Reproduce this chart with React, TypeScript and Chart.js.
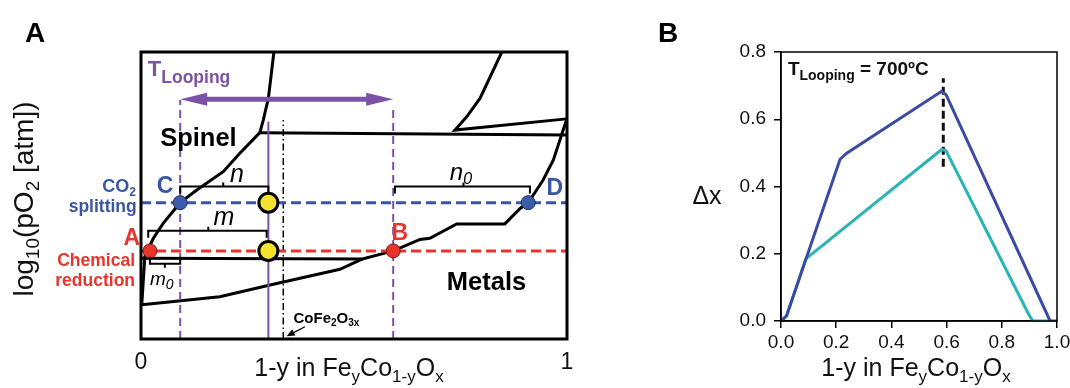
import React, { useEffect, useRef } from 'react';
import { Chart, registerables } from 'chart.js';
Chart.register(...registerables);

const FONT = '"Liberation Sans", Arial, Helvetica, sans-serif';
const PURPLE = '#7b52a6';
const BLUE = '#3a55a6';
const RED = '#e8352b';

// ---------- Panel A: schematic phase diagram (x = 1-y, y = relative log10 pO2) ----------
const spinelTopEdge = [[0.312, 1.0], [0.299, 0.839], [0.287, 0.763], [0.279, 0.719]];
const spinelPlateau = [[0.279, 0.719], [1.0, 0.711]];
const spinelLowerEdge = [[0.279, 0.719], [0.232, 0.647], [0.193, 0.583], [0.131, 0.519], [0.092, 0.475], [0.052, 0.403], [0.029, 0.351], [0.016, 0.31], [0.009, 0.287], [0.002, 0.124]];
const reductionShelf = [[0.002, 0.281], [0.52, 0.279], [0.592, 0.307]];
const metalsEdge = [[0.002, 0.119], [0.185, 0.147], [0.303, 0.188], [0.467, 0.243], [0.52, 0.279]];
const metalsRightEdge = [[0.592, 0.307], [0.655, 0.347], [0.678, 0.351], [0.741, 0.401], [0.854, 0.401], [0.89, 0.455], [0.909, 0.475], [0.944, 0.554], [0.968, 0.624], [0.991, 0.728], [0.999, 0.763]];
const upperWedge = [[0.847, 1.0], [0.796, 0.839], [0.765, 0.775], [0.737, 0.728], [0.999, 0.767]];

const co2Level = 0.475;
const reductionLevel = 0.307;
const redPoints = [[0.021, 0.307], [0.592, 0.307]]; // A, B
const bluePoints = [[0.092, 0.475], [0.909, 0.475]]; // C, D
const yellowPoints = [[0.299, 0.475], [0.299, 0.307]];
const loopRange = [0.092, 0.592];
const loopTops = [0.833, 0.815];
const arrowLevel = 0.835;
const compositionX = 0.299;
const compositionTop = 0.757;
const cofe2o3X = 0.334;
const cofe2o3Top = 0.763;
const aXTicks = [0, 1];

// brackets: [x0, x1, y, xMid, direction(1 = ends down)]
const brackets = [
  [0.092, 0.299, 0.531, 0.193, 1], // n
  [0.017, 0.295, 0.377, 0.158, 1], // m
  [0.596, 0.913, 0.531, 0.757, 1], // n0
  [0.021, 0.092, 0.262, 0.056, -1], // m0
];

// ---------- Panel B: Δx vs 1-y ----------
const blueX = [0, 0.02, 0.214, 0.238, 0.582, 0.598, 0.975, 1.0];
const blueDx = [0, 0.015, 0.481, 0.499, 0.683, 0.673, 0, 0];
const cyanX = [0, 0.02, 0.09, 0.582, 0.598, 0.9, 0.913, 0.98];
const cyanDx = [0, 0.015, 0.185, 0.51, 0.506, 0.016, 0, 0];
const markerX = 0.588;
const markerRange = [0.459, 0.722];
const bXTicks = [0, 0.2, 0.4, 0.6, 0.8, 1.0];
const bYTicks = [0, 0.2, 0.4, 0.6, 0.8];

const toXY = (arr: number[][]) => arr.map(([x, y]) => ({ x, y }));
const zipXY = (xs: number[], ys: number[]) => xs.map((x, i) => ({ x, y: ys[i] }));

type Part = { t: string; size: number; bold?: boolean; italic?: boolean; dy?: number };

function drawParts(ctx: CanvasRenderingContext2D, parts: Part[], x: number, y: number, align: 'left' | 'center' | 'right', color: string) {
  ctx.save();
  ctx.fillStyle = color;
  ctx.textBaseline = 'alphabetic';
  ctx.textAlign = 'left';
  const fonts = parts.map(p => `${p.italic ? 'italic ' : ''}${p.bold ? 'bold ' : ''}${p.size}px ${FONT}`);
  const widths = parts.map((p, i) => { ctx.font = fonts[i]; return ctx.measureText(p.t).width; });
  const total = widths.reduce((a, b) => a + b, 0);
  let cx = align === 'left' ? x : align === 'center' ? x - total / 2 : x - total;
  parts.forEach((p, i) => { ctx.font = fonts[i]; ctx.fillText(p.t, cx, y + (p.dy || 0)); cx += widths[i]; });
  ctx.restore();
}

const formulaParts = (s: number): Part[] => {
  const sub = Math.round(s * 0.68);
  const dy = Math.round(s * 0.25);
  return [
    { t: '1-y in Fe', size: s },
    { t: 'y', size: sub, dy },
    { t: 'Co', size: s },
    { t: '1-y', size: sub, dy },
    { t: 'O', size: s },
    { t: 'x', size: sub, dy },
  ];
};

const panelAPlugin = {
  id: 'panelA',
  afterDraw(chart: any) {
    const { ctx, chartArea: ca, scales } = chart;
    const X = (v: number) => scales.x.getPixelForValue(v);
    const Y = (v: number) => scales.y.getPixelForValue(v);
    ctx.save();
    // T_looping arrow
    const ay = Y(arrowLevel), ax0 = X(loopRange[0]), ax1 = X(loopRange[1]);
    const hl = 27, hw = 6.5;
    ctx.strokeStyle = PURPLE; ctx.fillStyle = PURPLE; ctx.lineWidth = 5;
    ctx.beginPath(); ctx.moveTo(ax0 + hl - 4, ay); ctx.lineTo(ax1 - hl + 4, ay); ctx.stroke();
    ctx.beginPath(); ctx.moveTo(ax0, ay); ctx.lineTo(ax0 + hl, ay - hw); ctx.lineTo(ax0 + hl, ay + hw); ctx.closePath(); ctx.fill();
    ctx.beginPath(); ctx.moveTo(ax1, ay); ctx.lineTo(ax1 - hl, ay - hw); ctx.lineTo(ax1 - hl, ay + hw); ctx.closePath(); ctx.fill();
    // brackets
    ctx.strokeStyle = '#000'; ctx.lineWidth = 2;
    brackets.forEach(([x0, x1, yv, xm, dir]) => {
      const py = Y(yv), px0 = X(x0), px1 = X(x1), pm = X(xm);
      ctx.beginPath();
      ctx.moveTo(px0, py + 7 * dir); ctx.lineTo(px0, py); ctx.lineTo(px1, py); ctx.lineTo(px1, py + 7 * dir);
      ctx.moveTo(pm, py); ctx.lineTo(pm, py - 4 * dir);
      ctx.stroke();
    });
    // CoFe2O3x arrow
    const sx = X(0.385), sy = Y(0.043), tx = X(0.342), ty = Y(0.01);
    ctx.lineWidth = 1.2;
    ctx.beginPath(); ctx.moveTo(sx, sy); ctx.lineTo(tx + 5, ty - 2.5); ctx.stroke();
    const ang = Math.atan2(ty - sy, tx - sx);
    ctx.fillStyle = '#000';
    ctx.beginPath();
    ctx.moveTo(tx, ty);
    ctx.lineTo(tx - 8 * Math.cos(ang) + 3.5 * Math.sin(ang), ty - 8 * Math.sin(ang) - 3.5 * Math.cos(ang));
    ctx.lineTo(tx - 8 * Math.cos(ang) - 3.5 * Math.sin(ang), ty - 8 * Math.sin(ang) + 3.5 * Math.cos(ang));
    ctx.closePath(); ctx.fill();
    // frame
    ctx.lineWidth = 3; ctx.strokeStyle = '#000';
    ctx.strokeRect(ca.left, ca.top, ca.right - ca.left, ca.bottom - ca.top);
    ctx.restore();

    // texts
    drawParts(ctx, [{ t: 'A', size: 28, bold: true }], 35, 42, 'center', '#000');
    drawParts(ctx, [{ t: 'T', size: 22, bold: true }, { t: 'Looping', size: 17.5, bold: true, dy: 7 }], X(0.016), Y(0.916), 'left', PURPLE);
    drawParts(ctx, [{ t: 'Spinel', size: 25.5, bold: true }], X(0.045), Y(0.672), 'left', '#000');
    drawParts(ctx, [{ t: 'Metals', size: 25.5, bold: true }], X(0.718), Y(0.171), 'left', '#000');
    drawParts(ctx, [{ t: 'n', size: 25, italic: true }], X(0.209), Y(0.548), 'left', '#000');
    drawParts(ctx, [{ t: 'm', size: 25, italic: true }], X(0.17), Y(0.397), 'left', '#000');
    drawParts(ctx, [{ t: 'n', size: 24, italic: true }, { t: '0', size: 16, italic: true, dy: 4 }], X(0.725), Y(0.554), 'left', '#000');
    drawParts(ctx, [{ t: 'm', size: 19, italic: true }, { t: '0', size: 14, italic: true, dy: 4 }], X(0.021), Y(0.188), 'left', '#000');
    drawParts(ctx, [{ t: 'CoFe', size: 15, bold: true }, { t: '2', size: 10, bold: true, dy: 3 }, { t: 'O', size: 15, bold: true }, { t: '3x', size: 10, bold: true, dy: 3 }], X(0.358), Y(0.055), 'left', '#000');
    drawParts(ctx, [{ t: 'C', size: 23, bold: true }], X(0.037), Y(0.509), 'left', BLUE);
    drawParts(ctx, [{ t: 'D', size: 23, bold: true }], X(0.952), Y(0.502), 'left', BLUE);
    drawParts(ctx, [{ t: 'B', size: 23, bold: true }], X(0.588), Y(0.345), 'left', RED);
    drawParts(ctx, [{ t: 'A', size: 23, bold: true }], X(-0.002), Y(0.328), 'right', RED);
    drawParts(ctx, [{ t: 'CO', size: 18, bold: true }, { t: '2', size: 12, bold: true, dy: 4 }], X(-0.012), Y(0.512), 'right', BLUE);
    drawParts(ctx, [{ t: 'splitting', size: 17.5, bold: true }], X(-0.01), Y(0.444), 'right', BLUE);
    drawParts(ctx, [{ t: 'Chemical', size: 17.5, bold: true }], X(-0.014), Y(0.254), 'right', RED);
    drawParts(ctx, [{ t: 'reduction', size: 17.5, bold: true }], X(-0.014), Y(0.185), 'right', RED);
    aXTicks.forEach(v => drawParts(ctx, [{ t: String(v), size: 23 }], X(v), 369, 'center', '#111'));
    drawParts(ctx, formulaParts(25), 349, 376, 'center', '#111');
    ctx.save();
    ctx.translate(33, 199);
    ctx.rotate(-Math.PI / 2);
    drawParts(ctx, [
      { t: 'log', size: 28 }, { t: '10', size: 19, dy: 6 }, { t: '(pO', size: 28 }, { t: '2', size: 19, dy: 6 }, { t: ' [atm])', size: 28 },
    ], 0, 0, 'center', '#111');
    ctx.restore();
  },
};

const panelBPlugin = {
  id: 'panelB',
  afterDraw(chart: any) {
    const { ctx, chartArea: ca, scales } = chart;
    ctx.save();
    ctx.lineWidth = 1.5; ctx.strokeStyle = '#000';
    ctx.strokeRect(ca.left, ca.top, ca.right - ca.left, ca.bottom - ca.top);
    ctx.restore();
    drawParts(ctx, [{ t: 'B', size: 28, bold: true }], 78, 42, 'center', '#000');
    drawParts(ctx, [{ t: 'Δx', size: 25 }], 117, 204, 'center', '#111');
    drawParts(ctx, formulaParts(25), (ca.left + ca.right) / 2 - 3, 376, 'center', '#111');
    drawParts(ctx, [
      { t: 'T', size: 19, bold: true }, { t: 'Looping', size: 14, bold: true, dy: 5 }, { t: ' = 700ºC', size: 19, bold: true },
    ], scales.x.getPixelForValue(0.025), 75, 'left', '#111');
  },
};

function line(data: number[][], color: string, width: number, dash: number[] = []) {
  return { data: toXY(data), showLine: true, borderColor: color, borderWidth: width, borderDash: dash, pointRadius: 0, fill: false };
}
function points(data: number[][], fill: string, border: string, radius: number, bw: number) {
  return { data: toXY(data), showLine: false, pointRadius: radius, pointBackgroundColor: fill, pointBorderColor: border, pointBorderWidth: bw, borderColor: border, backgroundColor: fill };
}

export default function App() {
  const aRef = useRef<HTMLCanvasElement>(null);
  const bRef = useRef<HTMLCanvasElement>(null);

  useEffect(() => {
    const chartA = new Chart(aRef.current as HTMLCanvasElement, {
      type: 'scatter',
      data: {
        datasets: [
          points(yellowPoints, '#f3e32b', '#000', 9.5, 3),
          points(redPoints, RED, '#7a1a12', 7, 1),
          points(bluePoints, '#3b5bab', '#1c2a60', 7, 1),
          line([[0, co2Level], [1, co2Level]], BLUE, 3, [10, 5]),
          line([[0, reductionLevel], [1, reductionLevel]], RED, 3, [10, 5]),
          line([[compositionX, 0], [compositionX, compositionTop]], PURPLE, 2),
          line([[loopRange[0], 0], [loopRange[0], loopTops[0]]], PURPLE, 2, [8, 5]),
          line([[loopRange[1], 0], [loopRange[1], loopTops[1]]], PURPLE, 2, [8, 5]),
          line([[cofe2o3X, 0], [cofe2o3X, cofe2o3Top]], '#000', 1.5, [7, 3, 1.5, 3]),
          line(spinelTopEdge, '#000', 3),
          line(spinelPlateau, '#000', 3),
          line(spinelLowerEdge, '#000', 3),
          line(reductionShelf, '#000', 3),
          line(metalsEdge, '#000', 3),
          line(metalsRightEdge, '#000', 3),
          line(upperWedge, '#000', 3),
        ] as any,
      },
      options: {
        animation: false,
        responsive: false,
        events: [],
        layout: { padding: { left: 141, right: 23, top: 52, bottom: 49 } },
        elements: { line: { tension: 0 } },
        plugins: { legend: { display: false }, tooltip: { enabled: false } },
        scales: {
          x: { type: 'linear', min: 0, max: 1, display: false },
          y: { type: 'linear', min: 0, max: 1, display: false },
        },
      },
      plugins: [panelAPlugin],
    });

    const tickFont = { size: 19, family: FONT };
    const chartB = new Chart(bRef.current as HTMLCanvasElement, {
      type: 'scatter',
      data: {
        datasets: [
          { data: zipXY(blueX, blueDx), showLine: true, borderColor: '#3b4ba3', borderWidth: 3, pointRadius: 0 },
          { data: zipXY(cyanX, cyanDx), showLine: true, borderColor: '#2bb4b6', borderWidth: 3, pointRadius: 0 },
          { data: [{ x: markerX, y: markerRange[0] }, { x: markerX, y: markerRange[1] }], showLine: true, borderColor: '#111', borderWidth: 3, borderDash: [8, 4], pointRadius: 0 },
        ] as any,
      },
      options: {
        animation: false,
        responsive: false,
        events: [],
        layout: { padding: { left: 131, right: 13, top: 52, bottom: 27 } },
        elements: { line: { tension: 0 } },
        plugins: { legend: { display: false }, tooltip: { enabled: false } },
        scales: {
          x: {
            type: 'linear', min: 0, max: 1,
            afterBuildTicks: (s: any) => { s.ticks = bXTicks.map(v => ({ value: v })); },
            ticks: { font: tickFont, color: '#111', padding: 3, maxRotation: 0, autoSkip: false, callback: (v: any) => Number(v).toFixed(1) },
            grid: { drawOnChartArea: false, tickLength: 7, color: '#000', lineWidth: 1.5 },
            border: { color: '#000', width: 1.5 },
            afterFit: (s: any) => { s.height = 40; s.paddingLeft = 0; s.paddingRight = 0; },
          },
          y: {
            type: 'linear', min: 0, max: 0.8,
            afterBuildTicks: (s: any) => { s.ticks = bYTicks.map(v => ({ value: v })); },
            ticks: { font: tickFont, color: '#111', padding: 8, callback: (v: any) => Number(v).toFixed(1) },
            grid: { drawOnChartArea: false, tickLength: 7, color: '#000', lineWidth: 1.5 },
            border: { color: '#000', width: 1.5 },
            afterFit: (s: any) => { s.width = 60; s.paddingTop = 0; s.paddingBottom = 0; },
          },
        },
      },
      plugins: [panelBPlugin],
    });

    return () => { chartA.destroy(); chartB.destroy(); };
  }, []);

  return (
    <div style={{ position: 'absolute', left: 0, top: 0, width: 1070, height: 388, background: '#fff', overflow: 'hidden' }}>
      <canvas ref={aRef} width={590} height={388} style={{ position: 'absolute', left: 0, top: 0, width: 590, height: 388 }} />
      <canvas ref={bRef} width={480} height={388} style={{ position: 'absolute', left: 590, top: 0, width: 480, height: 388 }} />
    </div>
  );
}
